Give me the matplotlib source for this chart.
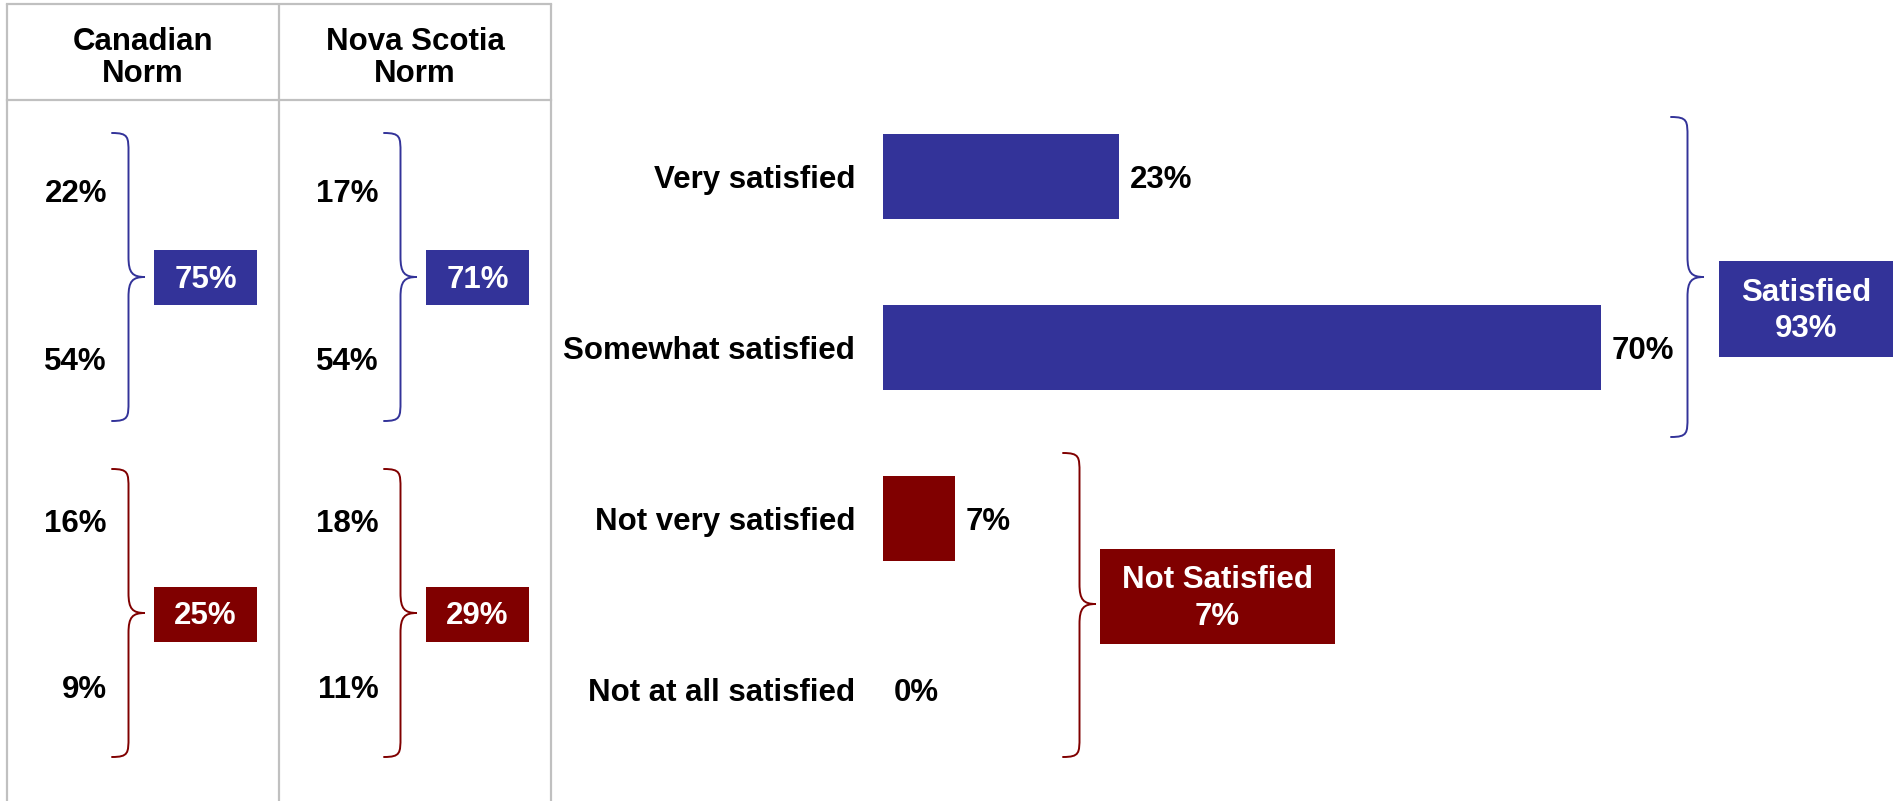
import matplotlib
matplotlib.use("Agg")
import matplotlib.pyplot as plt
from matplotlib.path import Path
from matplotlib.patches import PathPatch, Rectangle

plt.rcParams['font.family'] = ['Liberation Sans', 'DejaVu Sans']
plt.rcParams['font.weight'] = 'bold'
plt.rcParams['font.size'] = 22.5

# survey results
categories = ['Very satisfied', 'Somewhat satisfied', 'Not very satisfied', 'Not at all satisfied']
values = [23, 70, 7, 0]
summary_names = ['Satisfied', 'Not Satisfied']
summary_values = [93, 7]

# norms shown in the side table
norm_titles = ['Canadian\nNorm', 'Nova Scotia\nNorm']
canadian_norm = [22, 54, 16, 9]
nova_scotia_norm = [17, 54, 18, 11]
canadian_totals = [75, 25]
nova_scotia_totals = [71, 29]

BLUE = '#333399'
RED = '#800000'
GRID = '#c0c0c0'

W, H = 1893, 801
fig = plt.figure(figsize=(W / 100, H / 100), dpi=100)

# overlay in pixel units for the table, braces and boxes
ov = fig.add_axes([0, 0, 1, 1])
ov.set_xlim(0, W)
ov.set_ylim(H, 0)
ov.axis('off')


def brace(x0, top, bottom, tip, color, w=33):
    xm = x0 + w / 2
    r = 20
    verts = [
        (x0, top),
        (xm, top), (xm, top + 4), (xm, top + r),
        (xm, tip - r),
        (xm, tip - 4), (xm + 4, tip), (x0 + w, tip),
        (xm + 4, tip), (xm, tip + 4), (xm, tip + r),
        (xm, bottom - r),
        (xm, bottom - 4), (xm, bottom), (x0, bottom),
    ]
    codes = [Path.MOVETO,
             Path.CURVE4, Path.CURVE4, Path.CURVE4,
             Path.LINETO,
             Path.CURVE4, Path.CURVE4, Path.CURVE4,
             Path.CURVE4, Path.CURVE4, Path.CURVE4,
             Path.LINETO,
             Path.CURVE4, Path.CURVE4, Path.CURVE4]
    ov.add_patch(PathPatch(Path(verts, codes), fill=False, edgecolor=color,
                           lw=1.4, capstyle='round'))


def label_box(x0, x1, y0, y1, color, text):
    ov.add_patch(Rectangle((x0, y0), x1 - x0, y1 - y0, facecolor=color,
                           edgecolor='none'))
    ov.text((x0 + x1) / 2, (y0 + y1) / 2 + 2, text, color='white', ha='center',
            va='center', linespacing=1.3)


# side table grid
col_edges = [7, 279, 551]
for x in col_edges:
    ov.plot([x, x], [4, H], color=GRID, lw=1.6, solid_capstyle='butt')
for y in [4, 100]:
    ov.plot([col_edges[0], col_edges[-1]], [y, y], color=GRID, lw=1.6)

norm_cols = [(canadian_norm, canadian_totals), (nova_scotia_norm, nova_scotia_totals)]
row_y = [191, 359, 521, 687]
for c, (title, (norm, totals)) in enumerate(zip(norm_titles, norm_cols)):
    left = col_edges[c]
    ov.text((col_edges[c] + col_edges[c + 1]) / 2, 58, title, ha='center',
            va='center', linespacing=1.1)
    for y, v in zip(row_y, norm):
        ov.text(left + 100, y, f'{v}%', ha='right', va='center_baseline')
    brace(left + 105, 133, 421, 277, BLUE)
    brace(left + 105, 469, 757, 613, RED)
    label_box(left + 147, left + 250, 250, 305, BLUE, f'{totals[0]}%')
    label_box(left + 147, left + 250, 587, 642, RED, f'{totals[1]}%')

# bar chart, 10.25 px per percentage point
x_left = 883
px_per_pct = 10.25
row_px, row_step = 176.5, 171
ax = fig.add_axes([x_left / W, 0, (W - x_left) / W, 1])
ax.patch.set_alpha(0)
ax.set_xlim(0, (W - x_left) / px_per_pct)
ax.set_ylim((H - row_px) / row_step, -row_px / row_step)
for s in ax.spines.values():
    s.set_visible(False)
ax.set_xticks([])
ax.set_yticks(range(len(categories)))
ax.set_yticklabels(categories, va='center_baseline')
ax.tick_params(axis='y', length=0, pad=20)

colors = [BLUE, BLUE, RED, RED]
bars = ax.barh(range(len(categories)), values, height=0.5, color=colors)
for i, v in enumerate(values):
    ax.annotate(f'{v}%', (v, i), xytext=(8, 0), textcoords='offset points',
                ha='left', va='center_baseline')

# group braces with totals
brace(1671, 117, 437, 277, BLUE)
label_box(1719, 1893, 261, 357, BLUE, f'{summary_names[0]}\n{summary_values[0]}%')
brace(1063, 453, 757, 604, RED)
label_box(1100, 1335, 549, 644, RED, f'{summary_names[1]}\n{summary_values[1]}%')

fig.savefig('out.png', dpi=100, facecolor='white')
